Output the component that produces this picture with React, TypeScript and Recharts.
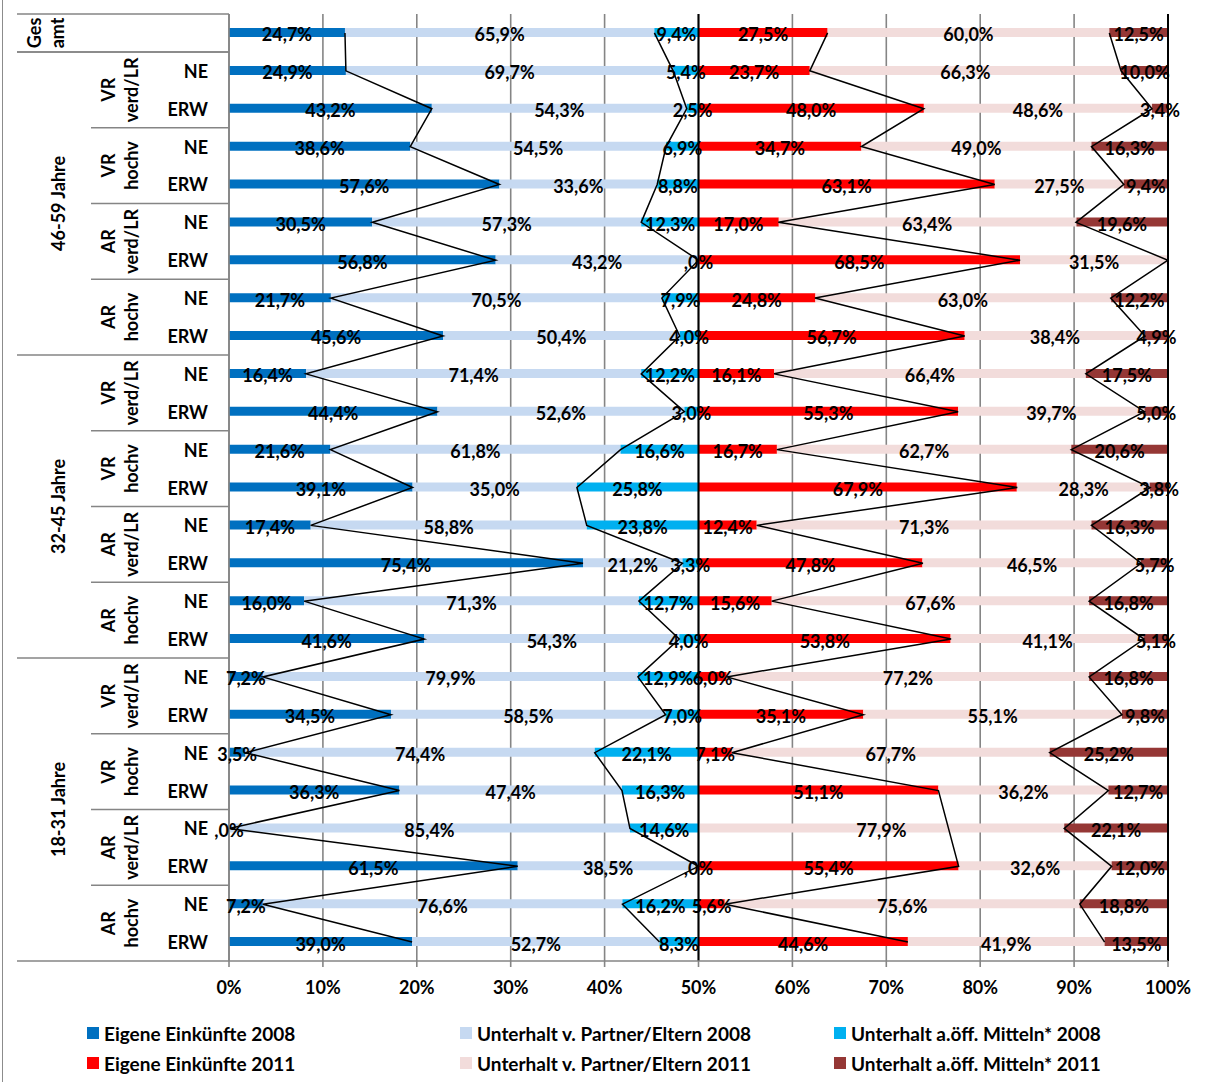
import React from 'react';
import { ComposedChart, Bar, Line, XAxis, YAxis, CartesianGrid, LabelList, ReferenceLine } from 'recharts';

const categories = [
  'Gesamt',
  '46-59 VR verd/LR NE', '46-59 VR verd/LR ERW', '46-59 VR hochv NE', '46-59 VR hochv ERW',
  '46-59 AR verd/LR NE', '46-59 AR verd/LR ERW', '46-59 AR hochv NE', '46-59 AR hochv ERW',
  '32-45 VR verd/LR NE', '32-45 VR verd/LR ERW', '32-45 VR hochv NE', '32-45 VR hochv ERW',
  '32-45 AR verd/LR NE', '32-45 AR verd/LR ERW', '32-45 AR hochv NE', '32-45 AR hochv ERW',
  '18-31 VR verd/LR NE', '18-31 VR verd/LR ERW', '18-31 VR hochv NE', '18-31 VR hochv ERW',
  '18-31 AR verd/LR NE', '18-31 AR verd/LR ERW', '18-31 AR hochv NE', '18-31 AR hochv ERW',
];
const rowLabels = [
  '', 'NE', 'ERW', 'NE', 'ERW', 'NE', 'ERW', 'NE', 'ERW',
  'NE', 'ERW', 'NE', 'ERW', 'NE', 'ERW', 'NE', 'ERW',
  'NE', 'ERW', 'NE', 'ERW', 'NE', 'ERW', 'NE', 'ERW',
];
const ageGroups = [
  { label: '46-59 Jahre', start: 1, end: 8 },
  { label: '32-45 Jahre', start: 9, end: 16 },
  { label: '18-31 Jahre', start: 17, end: 24 },
];
const subGroups = [
  { l1: 'VR', l2: 'verd/LR', start: 1 }, { l1: 'VR', l2: 'hochv', start: 3 },
  { l1: 'AR', l2: 'verd/LR', start: 5 }, { l1: 'AR', l2: 'hochv', start: 7 },
  { l1: 'VR', l2: 'verd/LR', start: 9 }, { l1: 'VR', l2: 'hochv', start: 11 },
  { l1: 'AR', l2: 'verd/LR', start: 13 }, { l1: 'AR', l2: 'hochv', start: 15 },
  { l1: 'VR', l2: 'verd/LR', start: 17 }, { l1: 'VR', l2: 'hochv', start: 19 },
  { l1: 'AR', l2: 'verd/LR', start: 21 }, { l1: 'AR', l2: 'hochv', start: 23 },
];

const eigene2008 = [24.7, 24.9, 43.2, 38.6, 57.6, 30.5, 56.8, 21.7, 45.6, 16.4, 44.4, 21.6, 39.1, 17.4, 75.4, 16.0, 41.6, 7.2, 34.5, 3.5, 36.3, 0.0, 61.5, 7.2, 39.0];
const partner2008 = [65.9, 69.7, 54.3, 54.5, 33.6, 57.3, 43.2, 70.5, 50.4, 71.4, 52.6, 61.8, 35.0, 58.8, 21.2, 71.3, 54.3, 79.9, 58.5, 74.4, 47.4, 85.4, 38.5, 76.6, 52.7];
const oeff2008 = [9.4, 5.4, 2.5, 6.9, 8.8, 12.3, 0.0, 7.9, 4.0, 12.2, 3.0, 16.6, 25.8, 23.8, 3.3, 12.7, 4.0, 12.9, 7.0, 22.1, 16.3, 14.6, 0.0, 16.2, 8.3];
const eigene2011: (number | null)[] = [27.5, 23.7, 48.0, 34.7, 63.1, 17.0, 68.5, 24.8, 56.7, 16.1, 55.3, 16.7, 67.9, 12.4, 47.8, 15.6, 53.8, 6.0, 35.1, 7.1, 51.1, null, 55.4, 5.6, 44.6];
const partner2011 = [60.0, 66.3, 48.6, 49.0, 27.5, 63.4, 31.5, 63.0, 38.4, 66.4, 39.7, 62.7, 28.3, 71.3, 46.5, 67.6, 41.1, 77.2, 55.1, 67.7, 36.2, 77.9, 32.6, 75.6, 41.9];
const oeff2011: (number | null)[] = [12.5, 10.0, 3.4, 16.3, 9.4, 19.6, null, 12.2, 4.9, 17.5, 5.0, 20.6, 3.8, 16.3, 5.7, 16.8, 5.1, 16.8, 9.8, 25.2, 12.7, 22.1, 12.0, 18.8, 13.5];
const xTicks = [0, 10, 20, 30, 40, 50, 60, 70, 80, 90, 100];

const seriesNames = [
  'Eigene Einkünfte 2008', 'Unterhalt v. Partner/Eltern 2008', 'Unterhalt a.öff. Mitteln* 2008',
  'Eigene Einkünfte 2011', 'Unterhalt v. Partner/Eltern 2011', 'Unterhalt a.öff. Mitteln* 2011',
];
const seriesColors = ['#0070C0', '#C6D9F1', '#00B0F0', '#FF0000', '#F2DCDB', '#953735'];

const data = categories.map((cat, i) => {
  const e08 = eigene2008[i], p08 = partner2008[i], o08 = oeff2008[i];
  const e11 = eigene2011[i], p11 = partner2011[i], o11 = oeff2011[i];
  const e11v = e11 ?? 0, o11v = o11 ?? 0;
  return {
    cat,
    e08, p08, o08, e11, p11, o11,
    b1: e08 / 2, b2: p08 / 2, b3: o08 / 2,
    r1: e11v / 2, r2: p11 / 2, r3: o11v / 2,
    c1: e08 / 2, c2: (e08 + p08) / 2,
    c4: e11 == null ? null : 50 + e11v / 2, c5: 50 + (e11v + p11) / 2,
    m1: e08 / 4, m2: e08 / 2 + p08 / 4, m3: (e08 + p08) / 2 + o08 / 4,
    m4: e11 == null ? null : 50 + e11v / 4, m5: 50 + e11v / 2 + p11 / 4,
    m6: o11 == null ? null : 50 + (e11v + p11) / 2 + o11v / 4,
  };
});

const FONT = 'Lato, "Open Sans", sans-serif';
const W = 1209, H = 1082;
const PLOT_TOP = 14, PLOT_BOTTOM = 961, PLOT_LEFT = 229, PLOT_RIGHT = 1168;
const BAND = (PLOT_BOTTOM - PLOT_TOP) / categories.length;
const GRID = '#858585';

const fmt = (v: number) => (v === 0 ? ',0%' : v.toFixed(1).replace('.', ',') + '%');

const renderLabel = (props: any) => {
  const { value } = props;
  if (value == null) return null;
  const x = props.x ?? props.viewBox?.x;
  const y = props.y ?? props.viewBox?.y;
  if (x == null || y == null) return null;
  return (
    <text x={x} y={y + 1.5} textAnchor="middle" dominantBaseline="central"
      fontFamily={FONT} fontWeight={700} fontSize={18} fill="#000">{fmt(value)}</text>
  );
};

const RotText = ({ x, y, children }: any) => (
  <text x={x} y={y} transform={`rotate(-90, ${x}, ${y})`} textAnchor="middle" dominantBaseline="central"
    fontFamily={FONT} fontWeight={700} fontSize={18} fill="#000">{children}</text>
);

const renderYTick = (props: any) => {
  const { y, index } = props;
  const top = y - BAND / 2;
  const bottom = y + BAND / 2;
  const els: any[] = [];
  els.push(
    <text key="rl" x={208} y={y} textAnchor="end" dominantBaseline="central"
      fontFamily={FONT} fontWeight={700} fontSize={18} fill="#000">{rowLabels[index]}</text>
  );
  if (index === 0) {
    els.push(<line key="t0" x1={17} x2={PLOT_LEFT} y1={top} y2={top} stroke={GRID} strokeWidth={1.5} />);
    els.push(<line key="b0" x1={17} x2={PLOT_LEFT} y1={bottom} y2={bottom} stroke={GRID} strokeWidth={1.5} />);
    els.push(<RotText key="g1" x={34} y={y}>Ges</RotText>);
    els.push(<RotText key="g2" x={57} y={y}>amt</RotText>);
  }
  const ag = ageGroups.find((g) => g.start === index);
  if (ag) {
    els.push(<line key="ag" x1={17} x2={PLOT_LEFT} y1={top} y2={top} stroke={GRID} strokeWidth={1.5} />);
    els.push(<RotText key="agl" x={58} y={top + (BAND * (ag.end - ag.start + 1)) / 2}>{ag.label}</RotText>);
  }
  const sg = subGroups.find((g) => g.start === index);
  if (sg) {
    if (!ag) els.push(<line key="sg" x1={91} x2={PLOT_LEFT} y1={top} y2={top} stroke={GRID} strokeWidth={1.5} />);
    els.push(<RotText key="s1" x={108} y={top + BAND}>{sg.l1}</RotText>);
    els.push(<RotText key="s2" x={131} y={top + BAND}>{sg.l2}</RotText>);
  }
  if (index === categories.length - 1) {
    els.push(<line key="bl" x1={17} x2={PLOT_LEFT} y1={bottom} y2={bottom} stroke={GRID} strokeWidth={1.5} />);
  }
  return <g>{els}</g>;
};

const legendPos = [
  { x: 87, y: 1033 }, { x: 460, y: 1033 }, { x: 834, y: 1033 },
  { x: 87, y: 1063 }, { x: 460, y: 1063 }, { x: 834, y: 1063 },
];

export default function App() {
  return (
    <div style={{ position: 'absolute', left: 0, top: 0, width: W, height: H, background: '#fff', overflow: 'hidden' }}>
      <div style={{ position: 'absolute', left: 2, top: 0, width: 1, height: H, background: '#8C8C8C' }} />
      <ComposedChart width={W} height={H} data={data} layout="vertical"
        margin={{ top: PLOT_TOP, right: W - PLOT_RIGHT, left: 0, bottom: H - PLOT_BOTTOM - 40 }}>
        <CartesianGrid horizontal={false} vertical={true} stroke={GRID} strokeWidth={1.6} />
        <XAxis type="number" domain={[0, 100]} ticks={xTicks} allowDataOverflow height={40}
          tickFormatter={(v: number) => `${v}%`} axisLine={{ stroke: GRID, strokeWidth: 1.6 }}
          tickLine={{ stroke: GRID, strokeWidth: 1.6 }} tickSize={6} tickMargin={14}
          tick={{ fontFamily: FONT, fontWeight: 700, fontSize: 18, fill: '#000' }} />
        <YAxis type="category" dataKey="cat" width={PLOT_LEFT} axisLine={{ stroke: GRID, strokeWidth: 1.6 }}
          tickLine={false} tick={renderYTick} interval={0} />
        <Bar dataKey="b1" stackId="s" fill={seriesColors[0]} barSize={9} isAnimationActive={false} />
        <Bar dataKey="b2" stackId="s" fill={seriesColors[1]} barSize={9} isAnimationActive={false} />
        <Bar dataKey="b3" stackId="s" fill={seriesColors[2]} barSize={9} isAnimationActive={false} />
        <Bar dataKey="r1" stackId="s" fill={seriesColors[3]} barSize={9} isAnimationActive={false} />
        <Bar dataKey="r2" stackId="s" fill={seriesColors[4]} barSize={9} isAnimationActive={false} />
        <Bar dataKey="r3" stackId="s" fill={seriesColors[5]} barSize={9} isAnimationActive={false} />
        <ReferenceLine x={50} stroke="#000" strokeWidth={2} />
        <ReferenceLine x={100} stroke="#000" strokeWidth={2} />
        <Line dataKey="c1" type="linear" stroke="#000" strokeWidth={1.5} dot={false} activeDot={false} isAnimationActive={false} />
        <Line dataKey="c2" type="linear" stroke="#000" strokeWidth={1.5} dot={false} activeDot={false} isAnimationActive={false} />
        <Line dataKey="c4" type="linear" stroke="#000" strokeWidth={1.5} dot={false} activeDot={false} connectNulls isAnimationActive={false} />
        <Line dataKey="c5" type="linear" stroke="#000" strokeWidth={1.5} dot={false} activeDot={false} isAnimationActive={false} />
        <Line dataKey="m1" stroke="none" dot={false} activeDot={false} isAnimationActive={false}>
          <LabelList dataKey="e08" content={renderLabel} />
        </Line>
        <Line dataKey="m2" stroke="none" dot={false} activeDot={false} isAnimationActive={false}>
          <LabelList dataKey="p08" content={renderLabel} />
        </Line>
        <Line dataKey="m3" stroke="none" dot={false} activeDot={false} isAnimationActive={false}>
          <LabelList dataKey="o08" content={renderLabel} />
        </Line>
        <Line dataKey="m4" stroke="none" dot={false} activeDot={false} isAnimationActive={false}>
          <LabelList dataKey="e11" content={renderLabel} />
        </Line>
        <Line dataKey="m5" stroke="none" dot={false} activeDot={false} isAnimationActive={false}>
          <LabelList dataKey="p11" content={renderLabel} />
        </Line>
        <Line dataKey="m6" stroke="none" dot={false} activeDot={false} isAnimationActive={false}>
          <LabelList dataKey="o11" content={renderLabel} />
        </Line>
      </ComposedChart>
      {seriesNames.map((name, i) => (
        <div key={name} style={{ position: 'absolute', left: legendPos[i].x, top: legendPos[i].y - 12, height: 24,
          display: 'flex', alignItems: 'center', fontFamily: FONT, fontWeight: 700, fontSize: 19, color: '#000', whiteSpace: 'nowrap' }}>
          <span style={{ display: 'inline-block', width: 12, height: 12, background: seriesColors[i], marginRight: 5 }} />
          {name}
        </div>
      ))}
    </div>
  );
}
